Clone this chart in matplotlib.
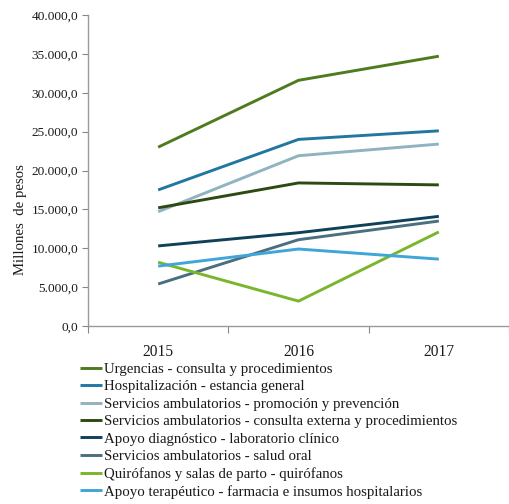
import matplotlib
matplotlib.use("Agg")
import matplotlib.pyplot as plt
from matplotlib.ticker import FuncFormatter, FixedLocator

years = ["2015", "2016", "2017"]
series_names = [
    "Urgencias - consulta y procedimientos",
    "Hospitalización - estancia general",
    "Servicios ambulatorios - promoción y prevención",
    "Servicios ambulatorios - consulta externa y procedimientos",
    "Apoyo diagnóstico - laboratorio clínico",
    "Servicios ambulatorios - salud oral",
    "Quirófanos y salas de parto - quirófanos",
    "Apoyo terapéutico - farmacia e insumos hospitalarios",
]
urgencias = [23000, 31600, 34700]
hospitalizacion = [17500, 24000, 25100]
promocion = [14700, 21900, 23400]
consulta_externa = [15200, 18400, 18150]
laboratorio = [10300, 12000, 14100]
salud_oral = [5400, 11100, 13500]
quirofanos = [8200, 3200, 12100]
farmacia = [7700, 9900, 8600]
values = [urgencias, hospitalizacion, promocion, consulta_externa,
          laboratorio, salud_oral, quirofanos, farmacia]
colors = ["#4f7b1e", "#2277a0", "#8fb3c0", "#2e4a12",
          "#0f4159", "#4a6f80", "#7ab62b", "#3ea6d9"]

plt.rcParams["font.family"] = ["Liberation Serif", "DejaVu Serif"]

fig = plt.figure(figsize=(5.10, 5.04), dpi=100)
ax = fig.add_axes([88/510, 1-326/504, (509-88)/510, (326-15)/504])

x = list(range(len(years)))
for name, vals, c in zip(series_names, values, colors):
    ax.plot(x, vals, color=c, lw=2.1, label=name, solid_capstyle="butt")

ax.set_xlim(-0.5, 2.5)
ax.set_ylim(0, 40000)
ax.set_yticks(range(0, 40001, 5000))

def fmt(v, pos):
    s = f"{v:,.1f}"
    return s.replace(",", "X").replace(".", ",").replace("X", ".")
ax.yaxis.set_major_formatter(FuncFormatter(fmt))

ax.xaxis.set_major_locator(FixedLocator([-0.5, 0.5, 1.5, 2.5]))
ax.xaxis.set_major_formatter(FuncFormatter(lambda v, p: ""))
ax.xaxis.set_minor_locator(FixedLocator(x))
ax.set_xticklabels(years, minor=True)
ax.tick_params(axis="x", which="minor", length=0, labelsize=11.2, pad=13, colors="#1a1a1a")
ax.tick_params(axis="x", which="major", length=5, color="#888888", direction="out")
ax.tick_params(axis="y", length=4, color="#888888", labelsize=9.6, labelcolor="#1a1a1a", pad=3)

for s in ["top", "right"]:
    ax.spines[s].set_visible(False)
for s in ["left", "bottom"]:
    ax.spines[s].set_color("#999999")
    ax.spines[s].set_linewidth(1.0)

fig.text(21/510, 1-220/504, "Millones  de pesos", rotation=90, ha="center", va="center",
         fontsize=10.6, color="#1a1a1a")

fig.legend(loc="upper left", bbox_to_anchor=(80/510, 1-362.5/504), frameon=False,
           fontsize=10.7, handlelength=1.48, handletextpad=0.13, labelspacing=0.27,
           borderaxespad=0, borderpad=0, labelcolor="#1a1a1a")

fig.savefig("out.png", dpi=100)
